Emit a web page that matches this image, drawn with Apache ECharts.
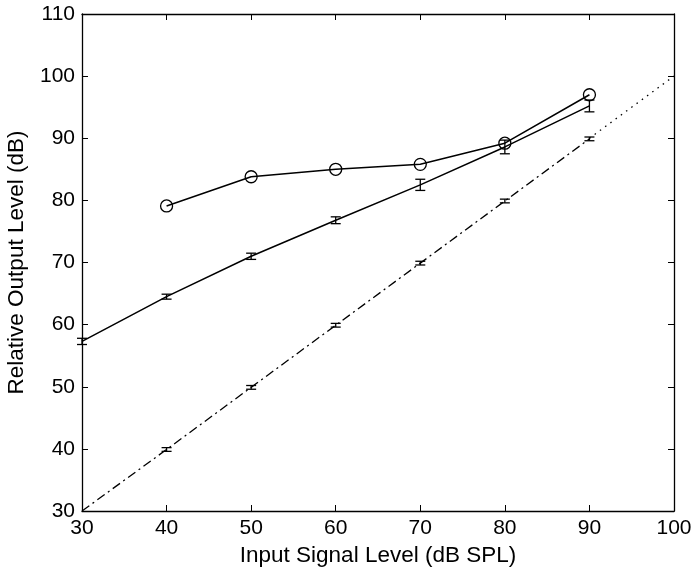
<!DOCTYPE html>
<html>
<head>
<meta charset="utf-8">
<script src="https://cdn.jsdelivr.net/npm/echarts@6/dist/echarts.min.js"></script>
<style>html,body{margin:0;padding:0;background:#fff}#c{width:695px;height:574px}</style>
</head>
<body>
<div id="c"></div>
<script>
var xTicks = [30, 40, 50, 60, 70, 80, 90, 100];
var yTicks = [30, 40, 50, 60, 70, 80, 90, 100, 110];

var circleX = [40, 50, 60, 70, 80, 90];
var circleY = [79.1, 83.8, 85.0, 85.8, 89.2, 97.0];

var midX = [30, 40, 50, 60, 70, 80, 90];
var midY = [57.3, 64.5, 71.0, 76.8, 82.5, 88.6, 95.2];
var midErr = [0.5, 0.4, 0.5, 0.55, 0.9, 1.1, 0.95];

var unityX = [30, 40, 50, 60, 70, 80, 90];
var unityY = [30, 39.9, 49.9, 59.9, 69.9, 79.9, 89.9];
var unityErr = [0, 0.3, 0.3, 0.3, 0.3, 0.3, 0.3];

var dotX = [90, 100];
var dotY = [90, 100];

function pairs(xs, ys) { return xs.map(function (x, i) { return [x, ys[i]]; }); }
function errData(xs, ys, es) { return xs.map(function (x, i) { return [x, ys[i] - es[i], ys[i] + es[i]]; }).filter(function (d, i) { return es[i] > 0; }); }

function errRender(params, api) {
  var x = api.value(0);
  var lo = api.coord([x, api.value(1)]);
  var hi = api.coord([x, api.value(2)]);
  var hw = 5;
  var st = { stroke: '#000', lineWidth: 1.3, fill: 'none' };
  return {
    type: 'group',
    children: [
      { type: 'line', shape: { x1: lo[0], y1: lo[1], x2: hi[0], y2: hi[1] }, style: st },
      { type: 'line', shape: { x1: lo[0] - hw, y1: lo[1], x2: lo[0] + hw, y2: lo[1] }, style: st },
      { type: 'line', shape: { x1: hi[0] - hw, y1: hi[1], x2: hi[0] + hw, y2: hi[1] }, style: st }
    ]
  };
}

var font = 'Liberation Sans, Arial, Helvetica, sans-serif';
var chart = echarts.init(document.getElementById('c'), null, { renderer: 'canvas' });
var axisLine = { show: true, lineStyle: { color: '#000', width: 1.3 } };
var tick = { show: true, inside: true, length: 6, lineStyle: { color: '#000', width: 1 } };

chart.setOption({
  animation: false,
  backgroundColor: '#fff',
  grid: { left: 82, right: 21, top: 14, bottom: 63, containLabel: false, outerBoundsMode: 'none' },
  xAxis: [
    { type: 'value', min: xTicks[0], max: xTicks[xTicks.length - 1], interval: 10, position: 'bottom',
      name: 'Input Signal Level (dB SPL)', nameLocation: 'middle', nameGap: 31,
      nameTextStyle: { fontFamily: font, fontSize: 22.5, color: '#000' },
      axisLine: axisLine, axisTick: tick, splitLine: { show: false },
      axisLabel: { fontFamily: font, fontSize: 21, color: '#000', margin: 7 } },
    { type: 'value', min: xTicks[0], max: xTicks[xTicks.length - 1], interval: 10, position: 'top',
      axisLine: axisLine, axisTick: tick, splitLine: { show: false }, axisLabel: { show: false } }
  ],
  yAxis: [
    { type: 'value', min: yTicks[0], max: yTicks[yTicks.length - 1], interval: 10, position: 'left',
      name: 'Relative Output Level (dB)', nameLocation: 'middle', nameGap: 54,
      nameTextStyle: { fontFamily: font, fontSize: 22.5, color: '#000' },
      axisLine: axisLine, axisTick: tick, splitLine: { show: false },
      axisLabel: { fontFamily: font, fontSize: 21, color: '#000', margin: 7 } },
    { type: 'value', min: yTicks[0], max: yTicks[yTicks.length - 1], interval: 10, position: 'right',
      axisLine: axisLine, axisTick: tick, splitLine: { show: false }, axisLabel: { show: false } }
  ],
  series: [
    { type: 'line', data: pairs(unityX, unityY), symbol: 'none', clip: true,
      lineStyle: { color: '#000', width: 1.3, type: [9, 4, 2, 4] } },
    { type: 'line', data: pairs(dotX, dotY), symbol: 'none',
      lineStyle: { color: '#000', width: 1.3, type: [1.5, 5] } },
    { type: 'line', data: pairs(midX, midY), symbol: 'none',
      lineStyle: { color: '#000', width: 1.5 } },
    { type: 'line', data: pairs(circleX, circleY), symbol: 'circle', symbolSize: 12, showSymbol: true,
      itemStyle: { color: 'rgba(0,0,0,0)', borderColor: '#000', borderWidth: 1.3 },
      lineStyle: { color: '#000', width: 1.5 } },
    { type: 'custom', data: errData(midX, midY, midErr), renderItem: errRender, z: 5 },
    { type: 'custom', data: errData(unityX, unityY, unityErr), renderItem: errRender, z: 5 }
  ]
});
</script>
</body>
</html>
